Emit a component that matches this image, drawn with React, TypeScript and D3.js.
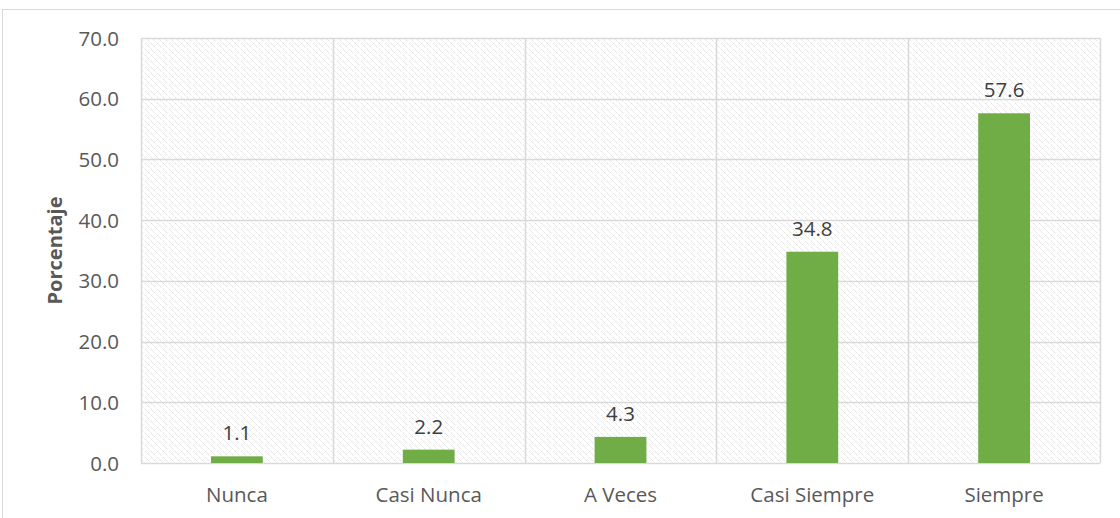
import React from "react";
import * as d3 from "d3";

const categories = ["Nunca", "Casi Nunca", "A Veces", "Casi Siempre", "Siempre"];
const values = [1.1, 2.2, 4.3, 34.8, 57.6];
const yTicks = [0, 10, 20, 30, 40, 50, 60, 70];

export default function App() {
  const W = 1120, H = 518;
  const left = 141, right = 1100, top = 38, bottom = 463;
  const x = d3.scaleBand<string>().domain(categories).range([left, right]).paddingInner(0.73).paddingOuter(0.365);
  const xb = d3.scaleBand<string>().domain(categories).range([left, right]);
  const y = d3.scaleLinear().domain([0, 70]).range([bottom, top]);
  const font = "'Open Sans', 'Noto Sans', sans-serif";
  return (
    <svg width={W} height={H} style={{ position: "absolute", left: 0, top: 0 }}>
      <defs>
        <pattern id="hatch" width="6" height="6" patternUnits="userSpaceOnUse">
          <path d="M-1,-1 L7,7 M-1,5 L1,7 M5,-1 L7,1" stroke="#d6d6d6" strokeWidth="1" strokeDasharray="1.5,1" />
        </pattern>
      </defs>
      <rect x={0} y={0} width={W} height={H} fill="#fff" />
      <rect x={2.5} y={9.5} width={W + 10} height={H} fill="none" stroke="#d9d9d9" strokeWidth={1} />
      <rect x={left} y={top} width={right - left} height={bottom - top} fill="url(#hatch)" />
      {yTicks.map((t) => (
        <line key={t} x1={left} x2={right} y1={Math.round(y(t)) + 0.5} y2={Math.round(y(t)) + 0.5} stroke="#d9d9d9" strokeWidth={1.5} />
      ))}
      {categories.map((c) => (
        <line key={c} x1={Math.round(xb(c)!) + 0.5} x2={Math.round(xb(c)!) + 0.5} y1={top} y2={bottom} stroke="#d9d9d9" strokeWidth={1.5} />
      ))}
      <line x1={right + 0.5} x2={right + 0.5} y1={top} y2={bottom} stroke="#d9d9d9" strokeWidth={1.5} />
      {categories.map((c, i) => (
        <rect key={c} x={x(c)} y={y(values[i])} width={x.bandwidth()} height={y(0) - y(values[i])} fill="#70ad47" />
      ))}
      {categories.map((c, i) => (
        <text key={c} x={x(c)! + x.bandwidth() / 2} y={y(values[i]) - 16} textAnchor="middle" fontFamily={font} fontSize={20.5} fill="#404040">
          {values[i].toFixed(1)}
        </text>
      ))}
      {yTicks.map((t) => (
        <text key={t} x={119} y={y(t) + 7.5} textAnchor="end" fontFamily={font} fontSize={20.5} fill="#595959">
          {t.toFixed(1)}
        </text>
      ))}
      {categories.map((c) => (
        <text key={c} x={xb(c)! + xb.bandwidth() / 2} y={502} textAnchor="middle" fontFamily={font} fontSize={20.5} fill="#595959">
          {c}
        </text>
      ))}
      <text transform={`translate(62,${(top + bottom) / 2}) rotate(-90)`} textAnchor="middle" fontFamily={font} fontSize={20} fontWeight="bold" fill="#595959">
        Porcentaje
      </text>
    </svg>
  );
}
